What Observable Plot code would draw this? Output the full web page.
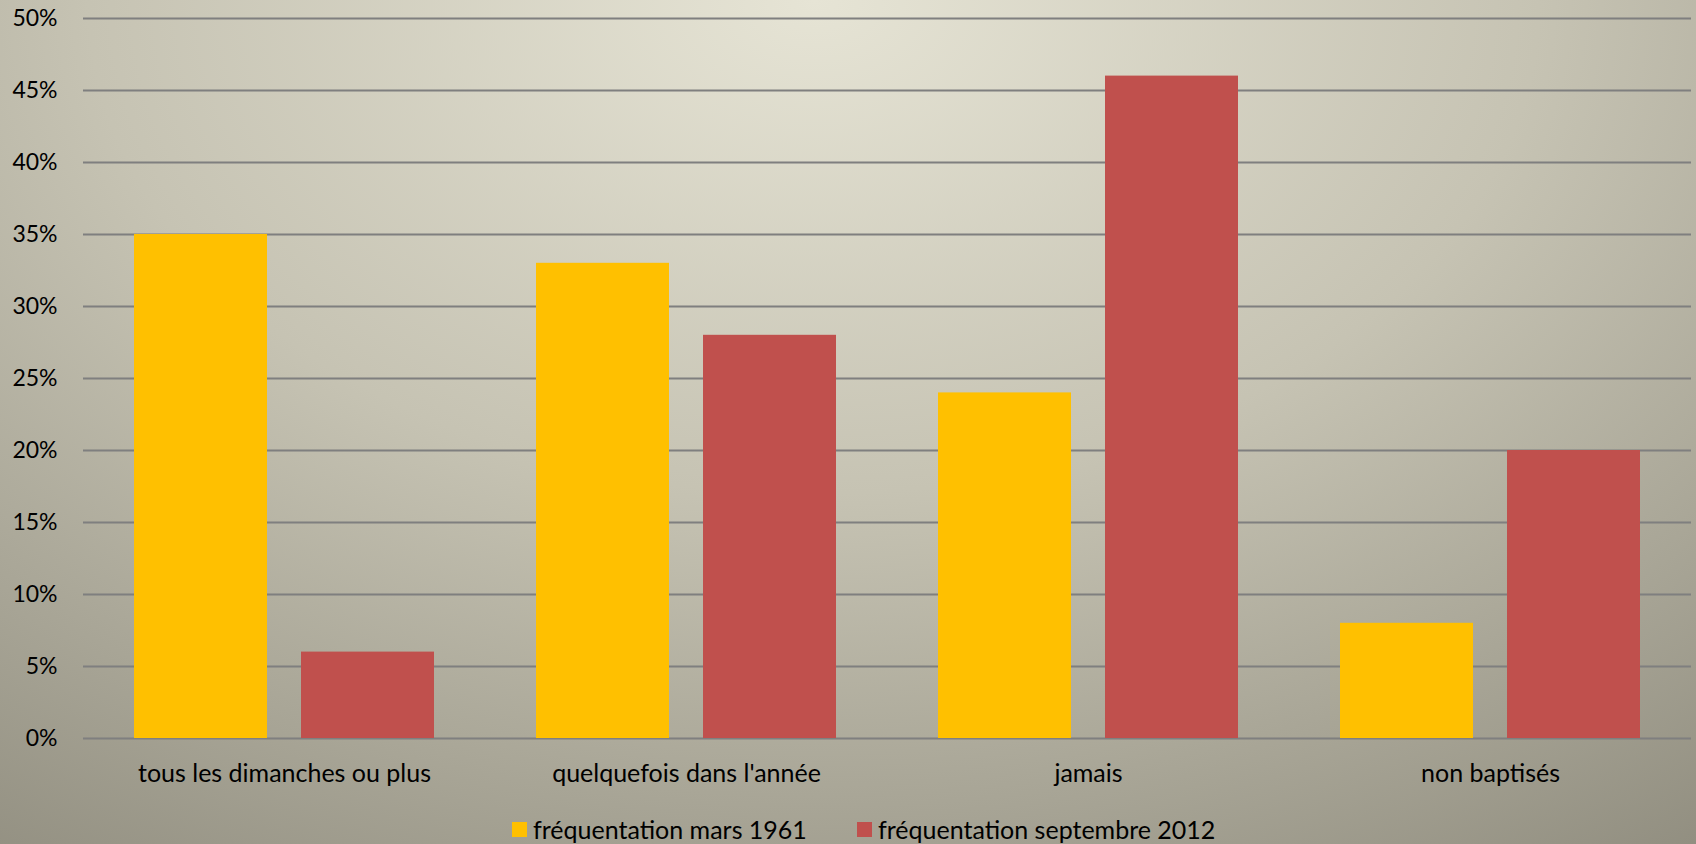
<!DOCTYPE html>
<html>
<head>
<meta charset="utf-8">
<script src="https://cdn.jsdelivr.net/npm/d3@7"></script>
<script src="https://cdn.jsdelivr.net/npm/@observablehq/plot@0.6"></script>
<style>
  html, body { margin: 0; padding: 0; }
  #page {
    position: relative;
    width: 1696px; height: 844px; overflow: hidden;
    background: radial-gradient(ellipse 95% 130% at 48% 0%, #e6e4d5 0%, #c6c3b3 45%, #8c897b 100%);
    font-family: Lato, "Open Sans", sans-serif;
  }
  #chart svg { display: block; }
  #legend { position: absolute; left: 0; top: 807px; width: 1696px; height: 44px; font-size: 25px; color: #000; }
  .item { position: absolute; top: 0; height: 44px; display: flex; align-items: center; }
  .sw { width: 15px; height: 15px; margin-right: 6px; }
</style>
</head>
<body>
<div id="page">
  <div id="chart"></div>
  <div id="legend"></div>
</div>
<script>
const categories = ["tous les dimanches ou plus", "quelquefois dans l'année", "jamais", "non baptisés"];
const series = ["fréquentation mars 1961", "fréquentation septembre 2012"];
const values1961 = [35, 33, 24, 8];
const values2012 = [6, 28, 46, 20];
const seriesColors = ["#ffc000", "#c0504d"];
const yTicks = [0, 5, 10, 15, 20, 25, 30, 35, 40, 45, 50];

const data = [];
categories.forEach((c, i) => {
  data.push({category: c, series: series[0], value: values1961[i]});
  data.push({category: c, series: series[1], value: values2012[i]});
});

const chart = Plot.plot({
  width: 1696,
  height: 800,
  marginLeft: 81,
  marginRight: 4,
  marginTop: 18,
  marginBottom: 62,
  style: {background: "transparent", fontFamily: "Lato, 'Open Sans', sans-serif", fontSize: "23px", color: "#000", overflow: "visible"},
  fx: {domain: categories, padding: 0, label: null},
  x: {domain: series, paddingInner: 0.2036, paddingOuter: 0.305, axis: null},
  y: {domain: [0, 50], label: null, axis: null},
  color: {domain: series, range: seriesColors},
  marks: [
    Plot.gridY(yTicks, {stroke: "#7f7f7f", strokeOpacity: 1, strokeWidth: 2}),
    Plot.axisY(yTicks, {tickSize: 0, tickPadding: 26, tickFormat: d => d + "%", label: null, fill: "#000"}),
    Plot.axisFx({anchor: "bottom", tickSize: 0, tickPadding: 26, label: null, fill: "#000", fontSize: 25}),
    Plot.barY(data, {fx: "category", x: "series", y: "value", fill: "series"})
  ]
});
document.getElementById("chart").appendChild(chart);

const legend = document.getElementById("legend");
const legendLeft = [512, 857];
series.forEach((s, i) => {
  const item = document.createElement("div");
  item.className = "item";
  item.style.left = legendLeft[i] + "px";
  const sw = document.createElement("div");
  sw.className = "sw";
  sw.style.background = seriesColors[i];
  const t = document.createElement("span");
  t.textContent = s;
  item.appendChild(sw);
  item.appendChild(t);
  legend.appendChild(item);
});
</script>
</body>
</html>
